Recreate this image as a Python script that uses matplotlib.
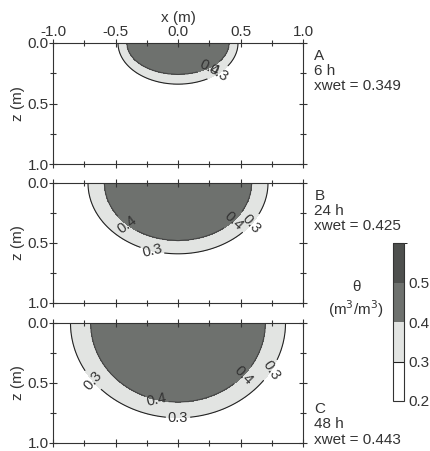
import numpy as np
import matplotlib
matplotlib.use("Agg")
from matplotlib import pyplot as plt
from matplotlib.colors import ListedColormap, BoundaryNorm
from matplotlib.ticker import MultipleLocator, FormatStrFormatter

# half-width (m) and depth (m) of the wetted-zone contours
panels = ["A", "B", "C"]
hours = ["6 h", "24 h", "48 h"]
xwet = [0.349, 0.425, 0.443]
half_w_03 = [0.48, 0.72, 0.86]
depth_03 = [0.34, 0.59, 0.79]
half_w_04 = [0.41, 0.59, 0.70]
depth_04 = [0.26, 0.48, 0.66]
levels = [0.2, 0.3, 0.4, 0.5, 0.6]
colors = ["#ffffff", "#e2e4e2", "#6e716e", "#4e504e"]
# contour label spots as angle (deg, from +x toward depth) on each ellipse
label_ang = [
    [(0.4, 40), (0.3, 38)],
    [(0.4, 140), (0.4, 35), (0.3, 110), (0.3, 30)],
    [(0.3, 145), (0.4, 40), (0.3, 28), (0.4, 105), (0.3, 90)],
]

ink = "#333333"
fs = 11
plt.rcParams["font.family"] = ["Liberation Sans", "DejaVu Sans"]
plt.rcParams["font.size"] = fs

cmap = ListedColormap(colors)
norm = BoundaryNorm(levels, cmap.N)


def ell_r(a, b, phi):
    return a * b / np.sqrt((b * np.cos(phi)) ** 2 + (a * np.sin(phi)) ** 2)


def theta_field(X, Z, a3, b3, a4, b4):
    r = np.hypot(X, Z)
    phi = np.arctan2(Z, X)
    r3 = ell_r(a3, b3, phi)
    r4 = ell_r(a4, b4, phi)
    t = np.where(r < r4, 0.47 - 0.07 * r / r4,
                 0.4 - 0.1 * (r - r4) / (r3 - r4))
    return np.clip(t, 0.2, None)


x = np.linspace(-1, 1, 401)
z = np.linspace(0, 1, 201)
X, Z = np.meshgrid(x, z)

fig = plt.figure(figsize=(4.30, 4.51), dpi=100)
bottoms = [1 - 164 / 451, 1 - 303 / 451, 1 - 443 / 451]
heights = [121 / 451, 120 / 451, 120 / 451]

for i in range(3):
    ax = fig.add_axes([53 / 430, bottoms[i], 250 / 430, heights[i]])
    T = theta_field(X, Z, half_w_03[i], depth_03[i], half_w_04[i], depth_04[i])
    ax.contourf(X, Z, T, levels=levels, cmap=cmap, norm=norm)
    cs = ax.contour(X, Z, T, levels=[0.3, 0.4], colors=["#222222", "#444444"],
                    linewidths=0.8)
    spots = []
    for lev, ang in label_ang[i]:
        a = half_w_03[i] if lev == 0.3 else half_w_04[i]
        b = depth_03[i] if lev == 0.3 else depth_04[i]
        phi = np.deg2rad(ang)
        rr = ell_r(a, b, phi)
        spots.append((rr * np.cos(phi), rr * np.sin(phi)))
    ax.clabel(cs, fmt="%.1f", manual=spots, fontsize=10.5, colors=ink,
              inline=True, inline_spacing=2)

    ax.set_xlim(-1, 1)
    ax.set_ylim(1, 0)
    ax.xaxis.set_major_locator(MultipleLocator(0.5))
    ax.xaxis.set_minor_locator(MultipleLocator(0.25))
    ax.yaxis.set_major_locator(MultipleLocator(0.5))
    ax.yaxis.set_minor_locator(MultipleLocator(0.25))
    ax.tick_params(which="both", direction="inout", top=True, right=True,
                   bottom=True, left=True, colors=ink, labelcolor=ink,
                   width=0.8, labelsize=fs, pad=0)
    ax.tick_params(which="major", length=6)
    ax.tick_params(which="minor", length=4)
    ax.tick_params(labelbottom=False, labeltop=(i == 0))
    ax.yaxis.set_major_formatter(FormatStrFormatter("%.1f"))
    ax.xaxis.set_major_formatter(FormatStrFormatter("%.1f"))
    for s in ax.spines.values():
        s.set_color(ink)
        s.set_linewidth(0.8)
    ax.set_ylabel("z (m)", color=ink, labelpad=2)
    if i == 0:
        ax.xaxis.set_label_position("top")
        ax.set_xlabel("x (m)", color=ink, labelpad=2)

    txt = "%s\n%s\nxwet = %.3f" % (panels[i], hours[i], xwet[i])
    if i < 2:
        ax.text(1.045, 0.95, txt, transform=ax.transAxes, va="top", ha="left",
                color=ink, linespacing=1.1)
    else:
        ax.text(1.045, -0.03, txt, transform=ax.transAxes, va="bottom",
                ha="left", color=ink, linespacing=1.1)

cax = fig.add_axes([393 / 430, 1 - 401 / 451, 11 / 430, 158 / 451])
sm = matplotlib.cm.ScalarMappable(norm=norm, cmap=cmap)
cb = fig.colorbar(sm, cax=cax, ticks=[0.2, 0.3, 0.4, 0.5], spacing="uniform")
cb.ax.axhline(0.3, color="#222222", lw=0.8)
cb.ax.tick_params(length=0, colors=ink, labelcolor=ink, labelsize=fs, pad=3)
cb.ax.yaxis.set_major_formatter(FormatStrFormatter("%.1f"))
cb.outline.set_color(ink)
cb.outline.set_linewidth(0.8)
fig.text(356 / 430, 1 - 300 / 451, "θ\n(m$^3$/m$^3$)", ha="center", va="center",
         color=ink, fontsize=fs, linespacing=1.3)

fig.savefig("out.png", dpi=100)
